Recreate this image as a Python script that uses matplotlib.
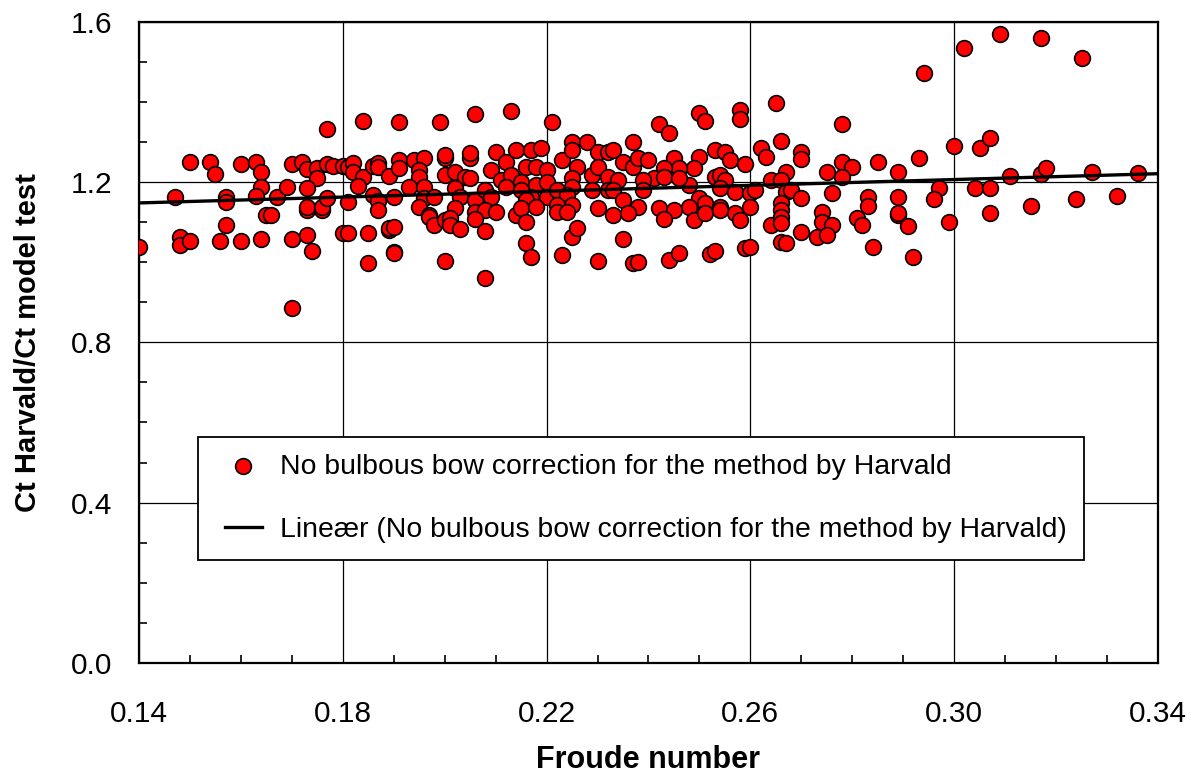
import matplotlib
matplotlib.use("Agg")
import matplotlib.pyplot as plt
from matplotlib.ticker import MultipleLocator
from matplotlib.collections import PathCollection
from matplotlib.lines import Line2D
from matplotlib.legend_handler import HandlerLine2D, HandlerPathCollection
import numpy as np

plt.rcParams['font.family'] = ['Liberation Sans', 'DejaVu Sans']

# Froude number and Ct Harvald / Ct model test
froude = [
    0.140, 0.147, 0.148, 0.148, 0.150, 0.150, 0.154, 0.155, 0.157, 0.156,
    0.157, 0.157, 0.160, 0.160, 0.163, 0.164, 0.164, 0.163, 0.164, 0.165,
    0.166, 0.167, 0.169, 0.170, 0.170, 0.170, 0.172, 0.173, 0.173, 0.174,
    0.173, 0.176, 0.175, 0.175, 0.177, 0.178, 0.173, 0.173, 0.176, 0.177,
    0.177, 0.180, 0.181, 0.182, 0.182, 0.184, 0.183, 0.181, 0.180, 0.181,
    0.184, 0.186, 0.187, 0.187, 0.189, 0.186, 0.187, 0.187, 0.185, 0.185,
    0.189, 0.190,
    0.191, 0.199, 0.206, 0.213, 0.221, 0.191, 0.191, 0.194, 0.196, 0.195,
    0.195, 0.193, 0.196, 0.190, 0.196, 0.198, 0.195, 0.197, 0.200, 0.200,
    0.200, 0.202, 0.204, 0.205, 0.205, 0.205, 0.202, 0.203, 0.206, 0.202,
    0.206, 0.208, 0.209, 0.210, 0.212, 0.211, 0.209, 0.208, 0.214, 0.216,
    0.218, 0.217, 0.219, 0.213, 0.215, 0.212, 0.215, 0.218, 0.220, 0.220,
    0.217, 0.216, 0.220, 0.214, 0.215, 0.218, 0.222, 0.223, 0.225, 0.225,
    0.226, 0.225, 0.225, 0.224, 0.222, 0.225, 0.228, 0.230, 0.232, 0.233,
    0.229, 0.230, 0.232, 0.234, 0.235, 0.237, 0.237, 0.238, 0.229, 0.232,
    0.233, 0.235, 0.238, 0.230, 0.233, 0.236, 0.189, 0.190, 0.197, 0.198,
    0.200, 0.201, 0.201, 0.203, 0.206, 0.208, 0.216, 0.210, 0.190, 0.200,
    0.208, 0.216, 0.217, 0.223, 0.225, 0.226, 0.222, 0.224, 0.230, 0.235,
    0.237,
    0.242, 0.244, 0.250, 0.251, 0.258, 0.258, 0.265, 0.278, 0.266, 0.262,
    0.263, 0.270, 0.270, 0.275, 0.278, 0.280, 0.285, 0.289, 0.267, 0.264,
    0.266, 0.278, 0.276, 0.283, 0.283, 0.240, 0.245, 0.250, 0.253, 0.255,
    0.256, 0.259, 0.249, 0.246, 0.243, 0.241, 0.243, 0.239, 0.248, 0.253,
    0.254, 0.255, 0.254, 0.239, 0.257, 0.260, 0.261, 0.267, 0.268, 0.270,
    0.266, 0.266, 0.274, 0.281, 0.250, 0.251, 0.248, 0.242, 0.245, 0.254,
    0.257, 0.260, 0.246, 0.289, 0.243, 0.249, 0.251, 0.254, 0.258, 0.264,
    0.266, 0.266, 0.270, 0.273, 0.274, 0.276, 0.275, 0.282, 0.284, 0.289,
    0.266, 0.267, 0.259, 0.260, 0.252, 0.253, 0.244, 0.246, 0.238,
    0.294, 0.302, 0.309, 0.317, 0.325, 0.300, 0.305, 0.307, 0.293, 0.297,
    0.296, 0.289, 0.291, 0.299, 0.292, 0.304, 0.307, 0.307, 0.311, 0.317,
    0.318, 0.315, 0.324, 0.327, 0.332, 0.336,
]
ct_ratio = [
    1.038, 1.163, 1.063, 1.043, 1.053, 1.251, 1.251, 1.221, 1.093, 1.053,
    1.163, 1.151, 1.246, 1.053, 1.251, 1.226, 1.188, 1.166, 1.058, 1.118,
    1.118, 1.163, 1.188, 1.246, 1.058, 0.886, 1.251, 1.233, 1.068, 1.028,
    1.131, 1.131, 1.236, 1.211, 1.246, 1.241, 1.186, 1.138, 1.138, 1.161,
    1.333, 1.241, 1.238, 1.248, 1.226, 1.213, 1.191, 1.151, 1.073, 1.073,
    1.353, 1.241, 1.248, 1.238, 1.216, 1.168, 1.153, 1.131, 1.073, 0.999,
    1.081, 1.026,
    1.351, 1.351, 1.371, 1.378, 1.351, 1.256, 1.236, 1.256, 1.261, 1.231,
    1.213, 1.188, 1.188, 1.163, 1.161, 1.163, 1.138, 1.118, 1.261, 1.268,
    1.218, 1.226, 1.213, 1.211, 1.261, 1.273, 1.186, 1.163, 1.156, 1.136,
    1.126, 1.181, 1.231, 1.276, 1.251, 1.206, 1.163, 1.131, 1.281, 1.238,
    1.238, 1.281, 1.286, 1.218, 1.201, 1.188, 1.181, 1.193, 1.231, 1.201,
    1.163, 1.156, 1.163, 1.118, 1.136, 1.138, 1.181, 1.256, 1.301, 1.281,
    1.238, 1.211, 1.188, 1.168, 1.143, 1.143, 1.301, 1.276, 1.276, 1.281,
    1.218, 1.238, 1.213, 1.206, 1.251, 1.238, 1.301, 1.261, 1.181, 1.181,
    1.181, 1.156, 1.138, 1.136, 1.118, 1.123, 1.086, 1.088, 1.113, 1.093,
    1.106, 1.111, 1.093, 1.083, 1.108, 1.078, 1.101, 1.126, 1.024, 1.004,
    0.961, 1.048, 1.014, 1.019, 1.063, 1.086, 1.126, 1.126, 1.004, 1.058,
    0.999,
    1.346, 1.323, 1.373, 1.353, 1.381, 1.358, 1.398, 1.346, 1.303, 1.286,
    1.263, 1.276, 1.258, 1.226, 1.251, 1.238, 1.251, 1.226, 1.226, 1.206,
    1.206, 1.213, 1.173, 1.163, 1.141, 1.256, 1.261, 1.263, 1.281, 1.276,
    1.256, 1.246, 1.236, 1.236, 1.236, 1.211, 1.213, 1.206, 1.193, 1.213,
    1.218, 1.206, 1.186, 1.181, 1.176, 1.173, 1.181, 1.176, 1.181, 1.161,
    1.148, 1.131, 1.126, 1.111, 1.161, 1.148, 1.138, 1.136, 1.131, 1.138,
    1.123, 1.138, 1.211, 1.163, 1.108, 1.106, 1.123, 1.131, 1.106, 1.093,
    1.113, 1.098, 1.076, 1.063, 1.101, 1.093, 1.068, 1.093, 1.038, 1.118,
    1.051, 1.048, 1.036, 1.038, 1.021, 1.028, 1.006, 1.024, 1.001,
    1.473, 1.535, 1.570, 1.560, 1.510, 1.291, 1.286, 1.311, 1.261, 1.186,
    1.158, 1.123, 1.091, 1.101, 1.014, 1.186, 1.186, 1.123, 1.216, 1.221,
    1.236, 1.141, 1.158, 1.226, 1.166, 1.223,
]

# linear trendline as drawn on the chart (ends)
trend_froude = [0.14, 0.34]
trend_ct = [1.148, 1.221]

x_ticks = [0.14, 0.18, 0.22, 0.26, 0.30, 0.34]
y_ticks = [0.0, 0.4, 0.8, 1.2, 1.6]

series_label = "No bulbous bow correction for the method by Harvald"
trend_label = "Lineær (No bulbous bow correction for the method by Harvald)"

fig = plt.figure(figsize=(11.98, 7.78), dpi=100)
ax = fig.add_axes([0.116, 0.148, 0.8506, 0.8239])

ax.scatter(froude, ct_ratio, s=128, c='#ff0000', edgecolors='black',
           linewidths=1.2, zorder=3, label=series_label)
ax.plot(trend_froude, trend_ct, color='black', lw=2.4, zorder=4,
        label=trend_label)

ax.set_xlim(0.14, 0.34)
ax.set_ylim(0.0, 1.6)
ax.set_xticks(x_ticks)
ax.set_yticks(y_ticks)
ax.xaxis.set_minor_locator(MultipleLocator(0.01))
ax.yaxis.set_minor_locator(MultipleLocator(0.1))
ax.set_xticklabels(["%.2f" % v for v in x_ticks])
ax.set_yticklabels(["%.1f" % v for v in y_ticks])

ax.grid(True, which='major', color='black', lw=0.9, zorder=1)
ax.set_axisbelow(True)
ax.tick_params(which='both', direction='in', colors='black', labelsize=21.5)
ax.tick_params(which='major', length=0)
ax.tick_params(which='minor', length=6, width=1.2)
ax.tick_params(axis='x', pad=27)
ax.tick_params(axis='y', pad=19)
for sp in ax.spines.values():
    sp.set_linewidth(1.6)
    sp.set_color('black')

ax.set_xlabel("Froude number", fontsize=22, fontweight='bold', labelpad=12)
ax.set_ylabel("Ct Harvald/Ct model test", fontsize=21, fontweight='bold',
              labelpad=21)

# handles sit a little further in from the frame, like the Excel legend
hmap = {Line2D: HandlerLine2D(xpad=0.35),
        PathCollection: HandlerPathCollection(xpad=0.35)}
leg = ax.legend(loc='upper left', bbox_to_anchor=(0.058, 0.3526),
                fontsize=20.4, frameon=True, fancybox=False,
                edgecolor='black', framealpha=1, borderpad=0.6,
                labelspacing=1.3, handlelength=1.65, handletextpad=0.65,
                borderaxespad=0, handler_map=hmap)
leg.get_frame().set_linewidth(1.3)
leg.set_zorder(5)

fig.savefig("out.png", dpi=100)
